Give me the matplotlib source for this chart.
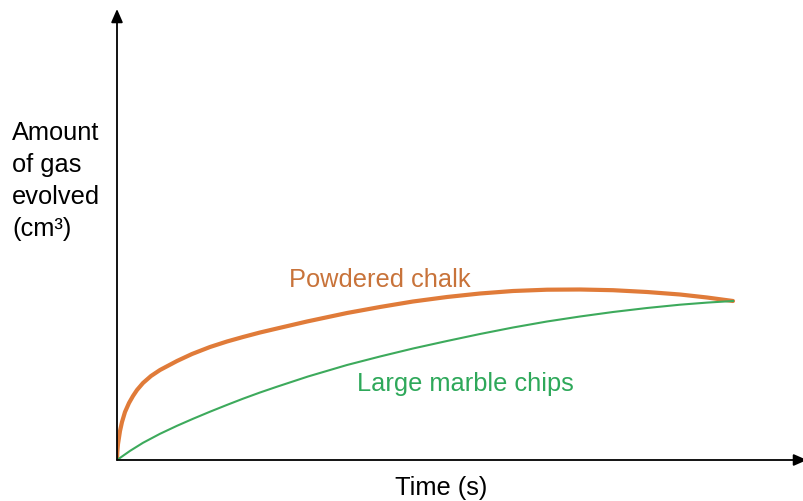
import matplotlib
matplotlib.use('Agg')
import numpy as np
import matplotlib.pyplot as plt

plt.rcParams['font.family'] = ['Liberation Sans', 'DejaVu Sans']

# readings (arbitrary units: time right, gas amount up)
chalk_t   = [0, 0.3, 1, 3, 5, 8, 12, 16, 20, 26, 34, 43, 60, 75, 93, 110, 126, 143, 160, 190, 230, 263, 296, 330, 363, 396, 430, 463, 496, 530, 563, 590, 616]
chalk_gas = [0, 8, 16, 29, 38, 48, 57, 64, 70, 77, 84, 90, 99, 106, 113, 118.5, 123, 127.5, 131.5, 138.5, 147, 153, 158.5, 163, 166.5, 169, 170.3, 170.5, 169.8, 168, 165.5, 162.5, 159]

chips_t   = [0, 13, 26, 43, 60, 76, 93, 110, 126, 143, 160, 191, 230, 263, 296, 330, 363, 396, 430, 463, 496, 530, 563, 590, 616]
chips_gas = [0, 9.1, 17.2, 26.2, 34.2, 41.2, 48.3, 55.1, 61.3, 67.5, 73.3, 83.5, 95, 103.5, 111.5, 119, 126, 132.5, 138.5, 143.5, 148, 152, 155.3, 157.4, 159]

orange = '#E07B39'
green = '#3DAA5C'

fig = plt.figure(figsize=(8.04, 5.02), dpi=100)
ax = fig.add_axes([117/804, 41/502, 687/804, 450/502])
ax.set_xlim(0, 687)
ax.set_ylim(0, 450)
ax.axis('off')

ax.plot(chalk_t, chalk_gas, color=orange, lw=3, solid_capstyle='round', solid_joinstyle='round')
ax.plot(chips_t, chips_gas, color=green, lw=1.5, solid_joinstyle='round')

# axes with arrow heads
ax.annotate('', xy=(0, 451), xytext=(0, 0), annotation_clip=False,
            arrowprops=dict(arrowstyle='-|>,head_length=0.8,head_width=0.35', color='black', lw=1.3, shrinkA=0, shrinkB=0))
ax.annotate('', xy=(690, 0), xytext=(0, 0), annotation_clip=False,
            arrowprops=dict(arrowstyle='-|>,head_length=0.8,head_width=0.35', color='black', lw=1.3, shrinkA=0, shrinkB=0))

fs = 18.3
ax.text(172, 174, 'Powdered chalk', color='#C8733A', fontsize=fs, va='baseline')
ax.text(240, 70, 'Large marble chips', color='#2EA85A', fontsize=fs, va='baseline')
ax.text(324, -34, 'Time (s)', color='black', fontsize=fs, ha='center', va='baseline', clip_on=False)
fig.text(12/804, 1 - 121/502, 'Amount\nof gas\nevolved\n(cm\u00b3)', fontsize=fs,
         va='top', ha='left', linespacing=1.42)

plt.savefig('out.png', dpi=100)
